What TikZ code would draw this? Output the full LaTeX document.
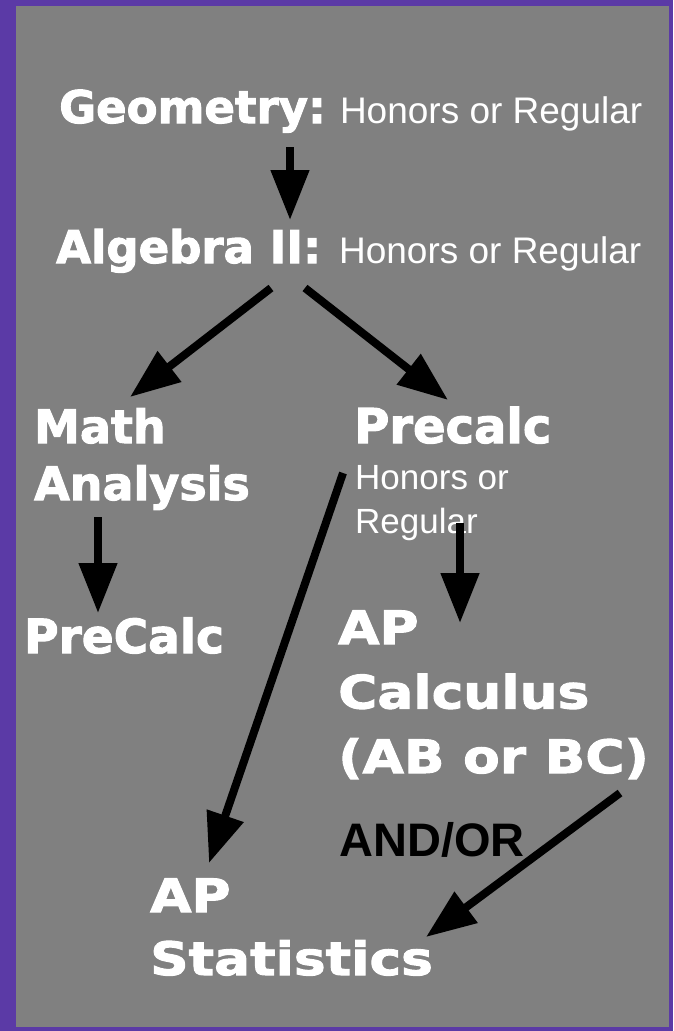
\documentclass[tikz,border=0pt]{standalone}
\usepackage{fontspec}
\usetikzlibrary{arrows.meta}
\usetikzlibrary{positioning}
\newfontfamily\coursefont{DejaVu Sans}[BoldFeatures={FakeBold=2.2}]
\newfontfamily\widecourse{DejaVu Sans}[BoldFeatures={FakeBold=2.2, FakeStretch=1.16}]
\newfontfamily\notefont{Liberation Sans}
\definecolor{frame}{RGB}{91,58,166}
\definecolor{slide}{RGB}{128,128,128}
\tikzstyle{course}=[anchor=base west, inner sep=0, text=white, align=left, font=\coursefont\bfseries\fontsize{45}{57}\selectfont]
\tikzstyle{flow}=[-{Triangle[length=50pt, width=37pt]}, line width=8pt]

\begin{document}
\begin{tikzpicture}[x=1pt, y=-1pt]
    \fill[frame] (0,0) rectangle (673,1031) ;
    \fill[slide] (16,6) rectangle (669,1027) ;
    % courses (base west = baseline of last line)
    \node[course] (geo) at (59,123) {Geometry:\hspace{14pt}{\notefont\mdseries\fontsize{37}{44}\selectfont Honors or Regular}} ;
    \node[course] (alg) at (56,263) {Algebra II:\hspace{18pt}{\notefont\mdseries\fontsize{37}{44}\selectfont Honors or Regular}} ;
    \node[course, font=\coursefont\bfseries\fontsize{46}{57}\selectfont] (ma) at (34,500) {Math\\Analysis} ;
    \node[course, font=\coursefont\bfseries\fontsize{48}{57}\selectfont] (pre) at (354,443) {Precalc} ;
    \node[course, font=\notefont\fontsize{35}{44}\selectfont] (prehon) at (355,533) {Honors or\\Regular} ;
    \node[course, font=\coursefont\bfseries\fontsize{47}{57}\selectfont] (pc) at (24,653) {PreCalc} ;
    \node[course, font=\widecourse\bfseries\fontsize{46}{64.5}\selectfont] (apc) at (338,773) {AP\\Calculus\\(AB or BC)} ;
    \node[course, text=black, font=\notefont\bfseries\fontsize{47}{47}\selectfont] (andor) at (339,856) {AND/OR} ;
    \node[course, font=\widecourse\bfseries\fontsize{46}{63}\selectfont] (aps) at (150,975) {AP\\Statistics} ;
    % arrows
    \draw[flow] ([shift={(231,24)}]geo.base west) -- ([shift={(234,-43)}]alg.base west) ;
    \draw[flow] ([shift={(215,25)}]alg.base west) -- ([shift={(96,-103)}]ma.base west) ;
    \draw[flow] ([shift={(249,25)}]alg.base west) -- ([shift={(94,-43)}]pre.base west) ;
    \draw[flow] ([shift={(64,17)}]ma.base west) -- ([shift={(74,-40)}]pc.base west) ;
    \draw[flow] ([shift={(105,-10)}]prehon.base west) -- ([shift={(122,-150)}]apc.base west) ;
    \draw[flow] ([shift={(-11,30)}]pre.base west) -- ([shift={(59,-112)}]aps.base west) ;
    \draw[flow] ([shift={(282,20)}]apc.base west) -- ([shift={(276,-38)}]aps.base west) ;
\end{tikzpicture}
\end{document}
